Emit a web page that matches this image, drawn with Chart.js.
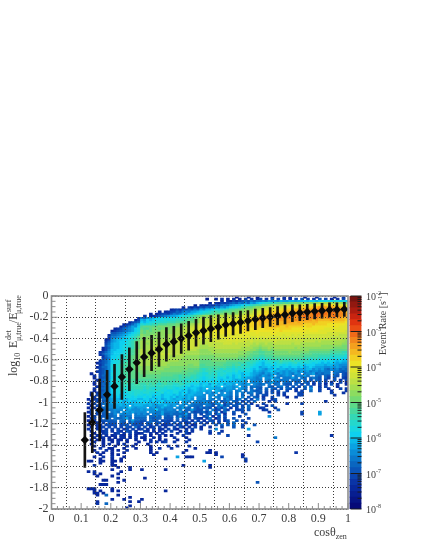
<!DOCTYPE html>
<html>
<head>
<meta charset="utf-8">
<style>
  html, body { margin: 0; padding: 0; background: #fff; }
  #wrap { position: relative; width: 421px; height: 545px; }
  canvas { position: absolute; left: 0; top: 0; filter: blur(0.35px); }
</style>
<script src="https://cdn.jsdelivr.net/npm/chart.js@4"></script>
</head>
<body>
<div id="wrap">
  <canvas id="main" width="421" height="545"></canvas>
  <canvas id="bar" width="421" height="545"></canvas>
</div>
<script>
// profile points (cos zenith, mean log10 ratio, error)
const profileCos = [0.1125,0.1375,0.1625,0.1875,0.2125,0.2375,0.2625,0.2875,0.3125,0.3375,0.3625,0.3875,0.4125,0.4375,0.4625,0.4875,0.5125,0.5375,0.5625,0.5875,0.6125,0.6375,0.6625,0.6875,0.7125,0.7375,0.7625,0.7875,0.8125,0.8375,0.8625,0.8875,0.9125,0.9375,0.9625,0.9875];
const profileMean = [-1.352,-1.19,-1.07,-0.927,-0.848,-0.761,-0.688,-0.626,-0.573,-0.535,-0.5,-0.454,-0.429,-0.4,-0.373,-0.345,-0.326,-0.307,-0.291,-0.27,-0.26,-0.247,-0.232,-0.219,-0.207,-0.197,-0.185,-0.176,-0.162,-0.157,-0.15,-0.144,-0.138,-0.131,-0.129,-0.125];
const profileErr = [0.258,0.282,0.291,0.23,0.207,0.211,0.202,0.197,0.185,0.166,0.162,0.157,0.144,0.139,0.136,0.127,0.127,0.122,0.115,0.11,0.105,0.105,0.096,0.096,0.091,0.089,0.086,0.085,0.078,0.075,0.072,0.072,0.07,0.066,0.066,0.066];

// colour scale, one entry per level char (0-9a-z), low to high rate
const levelChars = '0123456789abcdefghijklmnopqrstuvwxyz';
const palette = ['#060a78','#071484','#071e90','#08289c','#0a34a6','#0a44b0','#0a54b8','#0a66c0','#0a78cc','#0a8cd8','#0aa2e2','#0ab8ea','#0ed0f0','#18d6e0','#24d8cc','#34d8b4','#48d89c','#5cd888','#74da72','#8cdc60','#a4de50','#bce044','#cfe238','#dfe42e','#ece226','#f2d022','#f4b820','#f4a01e','#f2861c','#f06a18','#ea4c14','#e03410','#c82410','#ac1c10','#921810','#781410'];
const rateDecades = [-8,-7,-6,-5,-4,-3,-2];

// 2d histogram: one string per row from y=0 down (bin 0.02),
// groups of ten x bins (0.01) starting at cos=0.10, '.' is an empty bin
const heatRows = [
". . . . . ..2...3..2 ....3...4. 3....2...3 .....3..4.",
". . . . ..2..3.4.3 .4.3.5.4.3 5.4.6.5.4. 3.5.6.5.4. 6.5.3.4.5.",
". . . . .......3.4 3545676878 898a9a9baa bbabbcbccb cdcdcedcdc",
". . . . ...3.43545 6768797a9b cdeeffgghg hhihiiijij kjkkkkjkji",
". . . ........2. 3435465787 9abbcddefg ghhijkjkkl lmlmmnmnno oppopoonnm",
". . . ....3.4354 6576798a9b cddefghhij jkllmmmmnn ooooppppqq rrrqrqqqpo",
". . . 3454657687 a9bbcddeef gghhijijkk lmmnnopopp ppqqqrrrrs ssrsrrrrqp",
". . ......3.34 5576898aab cddefgfghh hiijjklkmm nopoppppqq qrrrrsssss ssssstssrq",
". . ...3.34554 6878a9bbcd deffghhiij ijjkklllmn noopqqqqqr rrrssssstt tttstssssr",
". . .4.3456789 aabcdeefgh ijjkjkklkl llmmmnnnno qqqqqrrrrs ssssstssst ssssstssrr",
". .........4 879abccdcd ddeeffgghi kjkkllllmm mmmnnoopoq rqrrqrrsrs ssrssstsss rrrsrsrrqq",
". ........35 bacbcddded eefffghhij lkllmmmmmn nnnonoppqq rrqrrrrrrr rrsrrrrrqr qqqqrqqqqp",
". ......3567 cbcddeeeef ffgghhiiij lklmmmmmnn nnoooooppp qqqqqqqqqr rrqrqqqqqq pppppppppo",
". ....34579b edeeffgggh hhiiijjkkl mllmmnnnnn ooooopoppp qqpqqqqqqq qqqqqpppqp pppoooooon",
". ...3568a9c ghhhhhiiii iijjkkllmm nmmnnnnnoo oooppppppp pqppqqqppq pppppoppoo ooooooonnn",
". .345789acd hgghiihiii jjkkkllmmm nnnnnnnooo oooopppopp ooppppoppp pooooooooo oonnnnnnnn",
". 3456789acd ihihiiijjj jjkkllmmnn nnnnoooooo ooooopoooo ooooooopoo oooooonooo nnnnnnnnnm",
". 66789abcde ihiiijjjjj jkkkllmmmn nnnnnnnooo ooooooonno nnnnoonnnn nnnnnnnnnn nnnmmmmmmm",
".........3 7789abcdef jiiijjjjjk kkkllmmnnn nnnnnnnnnn nnnnnnnnnn nnnnnnnnmn nmnmnmmmmm mmmmmmmlll",
".........4 889abcdefh jijjjjjjjk kkllmmmnnn mmmnnnnnnn nnnnnnnmmn mmnmmmmmmm mmmmmmmmmm mmmmllllll",
"........34 9abbccdefh jijjjkkkkk kkllmmmmmm mmmmmmmmmn nmnmmmmmlm lmlmmmmmmm mlmlmlllll llllllllkk",
"........46 9abccdefhi kjkkkkkkkk lllmmmmmmm lllmmmmmmm mmmmmmlmll lllllmllll lllllllllk lkkkkkkkkj",
"........57 abbccdefhi kkjkkkklkl lllmmmmmmm llllllllmm mlmlllllkl kklkklllll lkllkkkkkk kkkkkkkkjj",
"........68 abbcddefhi kkkkklklll llllmmmmmm kkklllllll lllllllkkk jkkkkkkkkk kkkkkkkkkk kjjjjjjjii",
".......357 abbcddefhi kkkkllllll lllllmmmll kkkkklllll llllkkkkjj ijjkjkkkkk kkjkjjjjjj jjjjjiiiii",
".......358 bbccdefghj lkklllllll lllllllllk jjjkkkkkkk kkkkkkkjji hiijijjjjj jjjjjjjiii iiiihhhhhh",
"......4579 bcccdefghj lkklllllll lllllkkkkk jjjjkkkkkk kkkjjjiihh gghhhiiiii jiiiiiihhh hhhhggggff",
"......4689 bccddefghj lkkllmlmlm llllkkkkkk jjjjjjjjjj jjjjjiihhh gghhhiiiii iiiihhhhgg ggggfffffe",
".......479 ccddefghij kkkkllllll kkkkkjjjjj iiiiijjjjj jjjiiihhgg ffggghhhhh hhhhhggggg ffffeeeeed",
".......568 ccddefghij kkkkllllll kkkkjjjjjj iiiiiiiiii iiihhhggff eeffgggggg gggggffeff eeeeddddcc",
"......4679 cddeffghij kkkllllkkk kkkjjjjjjj hhhhiiiiih hhhhhggffe dcdeefegff fgefefeded dcdcdcbcbb",
".....35679 cddefgghij kkkkkkkkkk jjjjjjjjjj hhhhhhhhhg gggfgfefed cbddecefee defdededcd cbcbcbabaa",
"......4689 ddefgghhij kkkkkkkkkj jjjjjjiijj gghhhhhhgg gfggefeedc cbccdcddcd cddcdbcccb bbabbaa999",
".....35779 ddeffgghii jjjjjjjjjj iiiiiiiiii gggggggggf fefefeedcc abbcbcdbcc bccbcabcba aa99a9a988",
"......5679 ddefgghhii jjjjjjjjii iiiiiihhhh fefgfgfefe edeeeddcbc ba9bbcabba babaaabb9a 9a87989787",
".....45689 cdefgghhhi iiijiiiiii iiiihhhhgg fefffeeede edecdddcab a9abcaba9a 9aa8a9a899 8988.88767",
"...3..5689 ddefgghhhh iiiiiiihhh hhhhhhgggf eddfefdeed dcdcbccbaa 98a9ba8a9a 98a9.899a7 8788.87.65",
"....4.5779 ddeffgghhh hhhhhhhhhh hggfgggffe edeeefdedc dbcdbccba9 8a98a.989a 9.898a8..8 7.76.76.65",
"....3.5679 cdeefgghhh hhhhhhhggg gggfgffefe dcdedeccdb cbcdbbaa98 9.99b98.88 8a8.87.787 6.75.6..54",
".....45789 ddeeffgggg gggggggggg gfgffeefed dcddcecbcc cbabba.998 8.98.9a788 .787.7.6.7 6.5..6.4.5",
"....4.5689 ddeefggggg ggggggfggf ffgfeefdde cbcddccbcb abbaa9.989 8.78a87.87 7.67.76.5. 6.5.4..5.3",
"....3.5779 ddeeffffgg ffgfgfefgf feeffedcdd bccacdbcab ba.a99a.98 78.8.78.76 6.7.5.6.4. 5.3.6.4..3",
".....45689 cddefeffff fefffeffee edeedcdbcc bcbbcab.ba a9a.98.787 7..76.78.6 .6.5.7.6.. 4.5...3...",
"....4.6789 cddeeeffff fefedeeede edcddcbccb ab.bbaab9a a9.a98.7.7 6.7.76.6.7 6.5..6.9.. 5..4...5.4",
"....3.5689 cddeeeeeee edeeefeddc cddcbcabcb abaa.ba89a 9.89.7.876 7.6.5.6..5 ..4.5..7.. 5...4....4",
"...4.45789 ccddcdedee deeddcdecd cddbccabba a.9a8a.9.9 8.8.8.78.7 6.5.6.4.5. ...55..... ....5...4.",
"...3.56789 bcdbdcdded dcddcddbcc cbcbcabbaa a9.99.89a9 8.8.7..7.6 .65...5.4. ...55..... .....4....",
"....4.5689 bbcbcddcdc cdcdbccbcc bcabbaba.9 99.9.98.98 7.7.8.6.76 .4..5....3 ..4.......",
"..3.45.789 abbacbcccb bccbcbcabc babbaab9.9 98.98.8.79 7.68.6.5.8 .5..46....",
"...3.5.679 aabcabcbbc cbcacbbcab bba.aa9.98 8987.8.678 .76.5.6.7. ...4.5.... . ..4.......",
"..4.5.6789 aabbacabbb bcbbabcbaa aa9.a9.888 7897689.58 6.57.6.4.. .5.......4 ....5.....",
"...3.56.89 9aabaa.abb baaba9aaca 9a.99.9877 7.886.7a57 .66.5.7..4 ..4.6.....",
"..3.4.6789 99a9aaca9a aa.9a99b99 9.98a87.76 8676.5858. 4.5.6.7... 45...4....",
"...4.56678 8999.9a999 a9a99c9989 98.8.77a76 6.7.856.75 ..556.6... .45...6...",
"..35.6.77. 898.9a9a99 99.9988a88 887a77.756 6758.6.47. .6..5..... ...4...... ....5..... a.........",
"...4.5.678 79.9899.89 898.888a77 87777a6.6. 5.67.58.4. .5...6.... . ....5..... a.........",
"..3.5.6677 78.7888.88 88.7787.76 7.69786.6. .57.4.5.6. ...5...... ...9......",
"...45.6.77 .8778a7.77 77.7677.66 6.7.675.65 4.58.36.5. .6....5...",
"..3.4.5667 67.77.7a77 66.766.565 5.6.56.4.5 .4.65.5.46 ..6.5.....",
"...344.5.6 66.76.6866 5.67.66.55 .6.5.45.6. 5.4.6.5..6 .7...5....",
"..3..44.56 56.566.656 5.65.5.445 5.46.5.34. .5...6.7.6 .7..5...6.",
"...3.445.5 .5.5.65.75 .5.45.5.4. .5.64.4.5. 3..4...5.. .6..5.....",
"..4..44.5. 5.5.45.5.4 5.4.5.44.5 .53..4.5.. 4....9.... ......a...",
"...3..445. 4.54.65.4. .54.4.4.4. 5..3.5.4.. ...5...4..",
"....3..45. .45.4.5.43 4..4.3.4.. ..4..53... ...4..5...",
"...3.44.4. 34.43.4.3. .4.3..4.3. 3...4..... .........5 ......4... . . ....4.....",
"....3.34.3 .3.44.3.4. 33..4.3... .4...3.... . . .....8....",
"...3.3.3.4 3.33.4..3. .3.4..3.3. ..3...4...",
"....4..3.. 3.4..3...3 ...4.4.45. .4...4.... . .........5",
"...3...3.4 ..3.4...3. ..3.......",
"....3..3.. .3...4.3.. ...3.....4 ..4...4...",
"......4..3 3...3...3. ...3..4... 4.......3.",
"....3...4. 3.3..4.... ...3...... .....3.... ...3......",
".....4.3.. 3...3..... ...3.3.... ....3..... ..33.3.... . . ..4.......",
"......3... 3.3....... ....3..... . .....3.... ....3.....",
"....3..4.. 4...3..... . ..a..333.. .......5.. ....4.....",
"......3... 3..3...... ........3. . . .....5....",
"..33..33.. 33.3...... . . .a........ .....4....",
"......3... 3.........",
"....4..... 33........ . ....3..... ...3......",
". ..3...3... . . ...3......",
". 3.....3... 3.......3.",
"..3.4..... ...3......",
"....3.3... ..3.......",
".....3.... 3.........",
". ..3....... .3........",
".......33. ....3.....",
". ..3....... . . . .........6",
"......333.",
".",
"..333..... 3.........",
"....3.3... 3.3....... ........3.",
"....33.3..",
".....3..7. ..3.......",
". ......3...",
". 3...3..... 3.........",
".....3.... ......3..3",
".....4..7.",
". ......3...",
". .....3...."
];

const firstCol = 10, binX = 0.01, binY = 0.02;
const heatCells = [];
heatRows.forEach((row, r) => {
  row.split(' ').map(g => g.padEnd(10, '.').slice(0, 10)).join('').split('').forEach((ch, i) => {
    const level = levelChars.indexOf(ch);
    if (level < 0) return;
    const c = firstCol + i;
    heatCells.push({x: (c + 0.5) * binX, y: [-(r + 1) * binY, -r * binY], level: level});
  });
});

const serif = '"Liberation Serif", serif';
const inkColor = '#3c3c3c';
const frameColor = '#8c8c8c';

// text run along a line: [text, size, offset from baseline, optional fixed start]
function drawRuns(ctx, x, y, rotate, runs) {
  ctx.save();
  ctx.translate(x, y);
  if (rotate) ctx.rotate(-Math.PI / 2);
  ctx.fillStyle = inkColor;
  ctx.textBaseline = 'alphabetic';
  ctx.textAlign = 'left';
  let pos = 0;
  runs.forEach(run => {
    ctx.font = run[1] + 'px ' + serif;
    const start = run[3] !== undefined ? run[3] : pos;
    ctx.fillText(run[0], start, run[2]);
    pos = start + ctx.measureText(run[0]).width;
  });
  ctx.restore();
}

const frameAndTitles = {
  id: 'frameAndTitles',
  afterDraw(chart) {
    const {ctx, chartArea: a, scales: {x, y}} = chart;
    ctx.save();
    ctx.strokeStyle = frameColor;
    ctx.lineWidth = 1;
    ctx.beginPath();
    // inward ticks
    for (let i = 0; i <= 50; i++) {
      const px = x.getPixelForValue(i * 0.02);
      ctx.moveTo(px, a.bottom);
      ctx.lineTo(px, a.bottom - (i % 5 === 0 ? 6 : 3));
    }
    for (let i = 0; i <= 40; i++) {
      const py = y.getPixelForValue(-i * 0.05);
      ctx.moveTo(a.left, py);
      ctx.lineTo(a.left + (i % 4 === 0 ? 6 : 4), py);
    }
    ctx.stroke();
    ctx.lineWidth = 1.6;
    ctx.strokeRect(a.left, a.top, a.right - a.left, a.bottom - a.top);
    ctx.restore();

    drawRuns(ctx, 17, 376, true, [
      ['log', 12, 0], ['10', 8, 3], ['E', 12, 0, 28],
      ['det', 8, -6, 36], ['\u03bc,true', 8, 3.5, 35],
      ['/E', 12, 0, 53], ['surf', 8, -6, 64], ['\u03bc,true', 8, 3.5, 62]
    ]);
    drawRuns(ctx, 314, 536, false, [['cos\u03b8', 12, 0], ['zen', 8, 3]]);
  }
};

new Chart(document.getElementById('main'), {
  type: 'bar',
  data: {
    datasets: [
      {
        type: 'scatter',
        data: profileCos.map((c, i) => ({x: c, y: profileMean[i]})),
        pointStyle: 'rectRot',
        pointRadius: 4.2,
        backgroundColor: '#0a0a0a',
        borderColor: '#0a0a0a',
        borderWidth: 0
      },
      {
        data: profileCos.map((c, i) => ({x: c, y: [profileMean[i] - profileErr[i], profileMean[i] + profileErr[i]]})),
        backgroundColor: '#141414',
        barThickness: 2,
        grouped: false
      },
      {
        data: heatCells,
        backgroundColor: ctx => palette[ctx.raw ? ctx.raw.level : 0],
        barThickness: 2.97,
        grouped: false
      }
    ]
  },
  options: {
    responsive: false,
    animation: false,
    events: [],
    layout: {padding: {left: 0, top: 296, right: 73, bottom: 0}},
    plugins: {legend: {display: false}, tooltip: {enabled: false}},
    scales: {
      x: {
        type: 'linear', min: 0, max: 1, offset: false,
        afterFit: s => { s.height = 36; },
        border: {display: false, dash: [1, 2]},
        grid: {z: 1, color: '#3a3a3a', lineWidth: 1, drawTicks: false},
        ticks: {
          stepSize: 0.1, maxRotation: 0, autoSkip: false, padding: 3, color: inkColor,
          font: {family: serif, size: 12},
          callback: v => String(+v.toFixed(1))
        }
      },
      y: {
        type: 'linear', min: -2, max: 0,
        afterFit: s => { s.width = 51.5; },
        border: {display: false, dash: [1, 2]},
        grid: {z: 1, color: '#3a3a3a', lineWidth: 1, drawTicks: false},
        ticks: {
          stepSize: 0.2, autoSkip: false, padding: 3, color: inkColor,
          font: {family: serif, size: 12},
          callback: v => String(+v.toFixed(1))
        }
      }
    }
  },
  plugins: [frameAndTitles]
});

// colour bar on its own chart, same page position
const colorBarLabels = {
  id: 'colorBarLabels',
  afterDraw(chart) {
    const {ctx, chartArea: a, scales: {y}} = chart;
    ctx.save();
    ctx.strokeStyle = '#1c1c1c';
    ctx.lineWidth = 1;
    ctx.beginPath();
    rateDecades.forEach((d, i) => {
      const py = y.getPixelForValue(Math.pow(10, d));
      ctx.moveTo(a.right, py);
      ctx.lineTo(a.right - 11, py);
      if (i < rateDecades.length - 1) {
        [2, 3, 4, 5, 6, 7, 8, 9].forEach(m => {
          const pm = y.getPixelForValue(m * Math.pow(10, d));
          ctx.moveTo(a.right, pm);
          ctx.lineTo(a.right - 4, pm);
        });
      }
    });
    ctx.stroke();
    ctx.restore();
    rateDecades.forEach(d => {
      const py = y.getPixelForValue(Math.pow(10, d));
      drawRuns(ctx, 366, py + 4, false, [['10', 10, 0], [String(d), 6, -5]]);
    });
    drawRuns(ctx, 386, 355, true, [['Event Rate [s', 10, 0], ['-1', 6.5, -4], [']', 10, 0]]);
  }
};

new Chart(document.getElementById('bar'), {
  type: 'bar',
  data: {
    labels: ['rate'],
    datasets: palette.map((color, i) => ({
      data: [[Math.pow(10, -8 + i / 6), Math.pow(10, -8 + (i + 1) / 6)]],
      backgroundColor: color,
      barPercentage: 1,
      categoryPercentage: 1,
      grouped: false
    }))
  },
  options: {
    responsive: false,
    animation: false,
    events: [],
    layout: {padding: {left: 349.5, top: 296, right: 59.5, bottom: 36}},
    plugins: {legend: {display: false}, tooltip: {enabled: false}},
    scales: {
      x: {display: false},
      y: {type: 'logarithmic', display: false, min: 1e-8, max: 1e-2}
    }
  },
  plugins: [colorBarLabels]
});
</script>
</body>
</html>
